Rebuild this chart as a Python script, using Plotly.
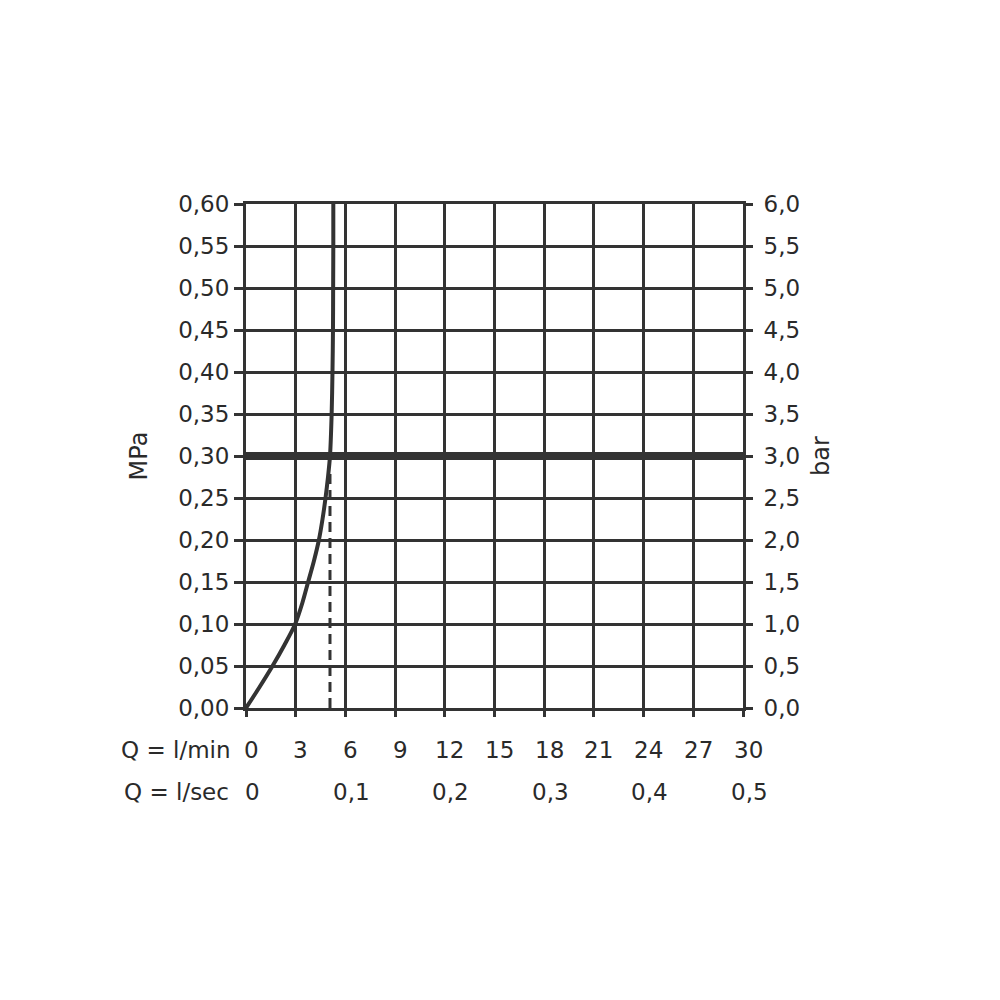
import plotly.graph_objects as go

# flow curve (l/min vs MPa)
flow_lpm = [0, 0.82, 1.6, 2.32, 2.97, 3.4, 3.75, 4.1, 4.4, 4.62, 4.8, 4.95, 5.07, 5.17, 5.22, 5.25, 5.26, 5.27, 5.27]
pressure_mpa = [0, 0.025, 0.05, 0.075, 0.10, 0.125, 0.15, 0.175, 0.20, 0.225, 0.25, 0.275, 0.30,
                0.35, 0.40, 0.45, 0.50, 0.55, 0.60]

# dashed drop line at the operating point
dash_x = [5.07, 5.07]
dash_y = [0, 0.285]

# recommended pressure line
ref_x = [0, 30]
ref_y = [0.30, 0.30]

lpm_ticks = [0, 3, 6, 9, 12, 15, 18, 21, 24, 27, 30]
lps_ticks = [0, 6, 12, 18, 24, 30]
lps_labels = ["0", "0,1", "0,2", "0,3", "0,4", "0,5"]
mpa_ticks = [0, 0.05, 0.10, 0.15, 0.20, 0.25, 0.30, 0.35, 0.40, 0.45, 0.50, 0.55, 0.60]
mpa_labels = ["0,00", "0,05", "0,10", "0,15", "0,20", "0,25", "0,30",
              "0,35", "0,40", "0,45", "0,50", "0,55", "0,60"]
bar_ticks = [0, 0.5, 1, 1.5, 2, 2.5, 3, 3.5, 4, 4.5, 5, 5.5, 6]
bar_labels = ["0,0", "0,5", "1,0", "1,5", "2,0", "2,5", "3,0",
              "3,5", "4,0", "4,5", "5,0", "5,5", "6,0"]

ink = "#333333"
font = dict(family="DejaVu Sans", size=23, color="#2a2a2a")
title_font = dict(family="DejaVu Sans", size=24, color="#2a2a2a")

fig = go.Figure()

fig.add_trace(go.Scatter(x=ref_x, y=ref_y, mode="lines",
                         line=dict(color=ink, width=8), showlegend=False))
fig.add_trace(go.Scatter(x=dash_x, y=dash_y, mode="lines",
                         line=dict(color=ink, width=3, dash="10px,6px"), showlegend=False))
fig.add_trace(go.Scatter(x=flow_lpm, y=pressure_mpa, mode="lines",
                         line=dict(color=ink, width=4, shape="spline", smoothing=0.8),
                         showlegend=False))
# dummy trace to activate right axis
fig.add_trace(go.Scatter(x=[0], y=[0], yaxis="y2", mode="markers",
                         marker=dict(opacity=0), showlegend=False, hoverinfo="skip"))

# bottom labels
ann = []
for v in lpm_ticks:
    ann.append(dict(x=v, y=-0.083, xref="x", yref="paper", text=str(v), xshift=5,
                    showarrow=False, font=font, xanchor="center", yanchor="middle"))
for v, t in zip(lps_ticks, lps_labels):
    ann.append(dict(x=v, y=-0.167, xref="x", yref="paper", text=t, xshift=6,
                    showarrow=False, font=font, xanchor="center", yanchor="middle"))
ann.append(dict(x=-0.026, y=-0.083, xref="paper", yref="paper", text="Q = l/min",
                showarrow=False, font=font, xanchor="right", yanchor="middle"))
ann.append(dict(x=-0.030, y=-0.167, xref="paper", yref="paper", text="Q = l/sec",
                showarrow=False, font=font, xanchor="right", yanchor="middle"))

fig.update_layout(
    width=1000, height=1000,
    margin=dict(l=238, r=265, t=196, b=300),
    paper_bgcolor="white", plot_bgcolor="white",
    font=font,
    annotations=ann,
    xaxis=dict(range=[0, 30], tickvals=lpm_ticks, showticklabels=False,
               ticks="outside", ticklen=6, tickwidth=2.5, tickcolor=ink,
               showgrid=True, gridcolor=ink, gridwidth=2.8,
               showline=True, linecolor=ink, linewidth=3, mirror=True,
               zeroline=False, fixedrange=True),
    yaxis=dict(range=[0, 0.6], tickvals=mpa_ticks, ticktext=mpa_labels,
               ticks="outside", ticklen=9, tickwidth=2.5, tickcolor=ink,
               showgrid=True, gridcolor=ink, gridwidth=2.8,
               showline=True, linecolor=ink, linewidth=3,
               zeroline=False, title=dict(text="MPa", font=title_font, standoff=24)),
    yaxis2=dict(range=[0, 6], overlaying="y", side="right",
                tickvals=bar_ticks, ticktext=bar_labels,
                ticks="outside", ticklen=7, tickwidth=2.5, tickcolor=ink,
                ticklabelstandoff=6,
                showgrid=False, showline=True, linecolor=ink, linewidth=3,
                zeroline=False, title=dict(text="bar", font=title_font, standoff=14)),
)

fig.write_html("out.html")
